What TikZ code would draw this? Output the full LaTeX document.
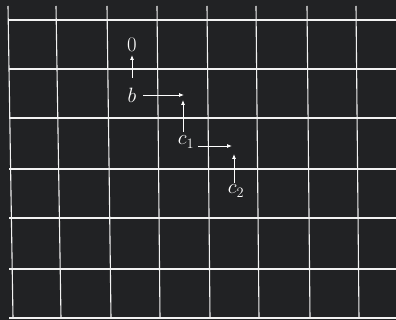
\documentclass[tikz,border=0pt]{standalone}
\usetikzlibrary{arrows.meta}
\definecolor{bg}{HTML}{212224}
\definecolor{ln}{HTML}{F2F2F2}
\begin{document}
\begin{tikzpicture}[x=1pt,y=-1pt,
  gridline/.style={draw=ln,line width=1.1pt},
  lab/.style={text=white,font=\fontsize{20}{22}\selectfont,inner sep=0pt},
  arr/.style={draw=white,line width=0.8pt,-{Latex[length=5pt,width=4pt]}}]
\fill[bg] (0,0) rectangle (396,320);
\useasboundingbox (0,0) rectangle (396,320);
% vertical lines
\foreach \a/\b in {8/13,56/61,107/111,157/160,207/210,256/259,307/310,356/359}
  \draw[gridline] (\a,6) -- (\b,318);
% horizontal lines
\foreach \y in {20,69,118,169,218,269,318}
  \draw[gridline] (9,\y) -- (396,\y);
% labels
\node[lab] (n0) at (132,45) {$0$};
\node[lab] (nb) at (132,95) {$b$};
\node[lab] (nc1) at (186,142) {$c_1$};
\node[lab] (nc2) at (236,191) {$c_2$};
\coordinate (sb0) at (132,78);
\coordinate (tb0) at (132,55);
\coordinate (sb) at (143,95);
\coordinate (tb) at (184,95);
\coordinate (sbc) at (183,132);
\coordinate (tbc) at (183,100);
\coordinate (sc1) at (198,146);
\coordinate (tc1) at (232,146);
\coordinate (sc2) at (234,183);
\coordinate (tc2) at (234,154);
\draw[arr] (sb0) -- (tb0);
\draw[arr] (sb) -- (tb);
\draw[arr] (sbc) -- (tbc);
\draw[arr] (sc1) -- (tc1);
\draw[arr] (sc2) -- (tc2);
\end{tikzpicture}
\end{document}
